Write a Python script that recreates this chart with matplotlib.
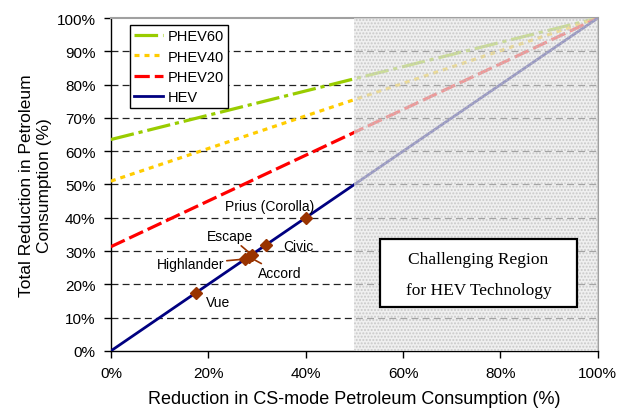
import matplotlib
matplotlib.use("Agg")
import matplotlib.pyplot as plt
from matplotlib.patches import Rectangle
from matplotlib.ticker import MultipleLocator, PercentFormatter

plt.rcParams['font.family'] = ['Liberation Sans', 'DejaVu Sans']
plt.rcParams['hatch.linewidth'] = 1.0
plt.rcParams['lines.scale_dashes'] = False

# CS-mode reduction (x) vs total reduction (y), in percent
x_ends = [0, 100]
hev = [0, 100]
phev20 = [31.3, 100]
phev40 = [51, 100]
phev60 = [63.5, 100]

# vehicles sitting on the HEV line
vehicles = ["Vue", "Highlander", "Accord", "Escape", "Civic", "Prius (Corolla)"]
veh_x = [17.4, 27.6, 28.3, 28.9, 31.9, 40.0]
veh_y = [17.4, 27.6, 28.3, 28.9, 31.9, 40.0]

# label positions for each vehicle
label_x = [22.0, 16.3, 34.6, 24.4, 38.6, 32.6]
label_y = [14.8, 26.1, 23.3, 34.5, 31.6, 43.5]
use_leader = [False, True, True, True, False, False]

brown = '#993300'

fig = plt.figure(figsize=(6.3, 4.14), dpi=100)
ax = fig.add_axes([0.176, 0.150, 0.773, 0.804])

for yv in range(10, 100, 10):
    ax.axhline(yv, color='#222222', lw=0.9, dashes=(5, 3), zorder=1)

ax.plot(x_ends, phev60, color='#99cc00', lw=2.3, dashes=(17, 3.5, 3, 3.5), label='PHEV60', zorder=3)
ax.plot(x_ends, phev40, color='#ffcc00', lw=2.3, dashes=(3.6, 3.6), label='PHEV40', zorder=3)
ax.plot(x_ends, phev20, color='#ff0000', lw=2.3, dashes=(11, 3.6), label='PHEV20', zorder=3)
ax.plot(x_ends, hev, color='#000080', lw=2.0, label='HEV', zorder=3)

# shaded "challenging" half, drawn over the lines
ax.fill_between([50, 100], 0, 100, facecolor='#e9e9e9', alpha=0.66,
                edgecolor='#b8b8b8', hatch='.....', lw=0, zorder=4)

ax.plot(veh_x, veh_y, 'D', color=brown, ms=6, zorder=5, linestyle='none')

for name, px, py, lx, ly, lead in zip(vehicles, veh_x, veh_y, label_x, label_y, use_leader):
    if lead:
        ax.annotate(name, xy=(px, py), xytext=(lx, ly), ha='center', va='center',
                    fontsize=10, zorder=6,
                    arrowprops=dict(arrowstyle='-', color=brown, lw=1.2,
                                    shrinkA=0, shrinkB=0))
    else:
        ax.text(lx, ly, name, ha='center', va='center', fontsize=10, zorder=6)

# boxed note over the shaded region
ax.add_patch(Rectangle((55.2, 13.2), 40.5, 20.4, facecolor='white', edgecolor='black',
                       lw=1.6, zorder=7))
ax.text(75.5, 27.6, "Challenging Region", ha='center', va='center',
        family='Liberation Serif', fontsize=12.5, zorder=8)
ax.text(75.5, 18.4, "for HEV Technology", ha='center', va='center',
        family='Liberation Serif', fontsize=12.5, zorder=8)

ax.set_xlim(0, 100)
ax.set_ylim(0, 100)
ax.xaxis.set_major_locator(MultipleLocator(20))
ax.yaxis.set_major_locator(MultipleLocator(10))
ax.xaxis.set_major_formatter(PercentFormatter(decimals=0))
ax.yaxis.set_major_formatter(PercentFormatter(decimals=0))
ax.tick_params(direction='out', length=5, width=1, labelsize=11, pad=6)

for side in ['top', 'right']:
    ax.spines[side].set_color('#a0a0a0')
    ax.spines[side].set_linewidth(1.5)
for side in ['left', 'bottom']:
    ax.spines[side].set_linewidth(1.0)

ax.set_xlabel("Reduction in CS-mode Petroleum Consumption (%)", fontsize=13, labelpad=7)
ax.set_ylabel("Total Reduction in Petroleum\nConsumption (%)", fontsize=12.5,
              labelpad=3, linespacing=1.25)

leg = ax.legend(loc='upper left', bbox_to_anchor=(0.039, 0.979), borderaxespad=0,
                fancybox=False, framealpha=1, edgecolor='black', fontsize=10.5,
                handlelength=2.0, labelspacing=0.42, borderpad=0.3, handletextpad=0.3)
leg.get_frame().set_linewidth(1.0)
leg.set_zorder(9)

fig.savefig("out.png", dpi=100)
